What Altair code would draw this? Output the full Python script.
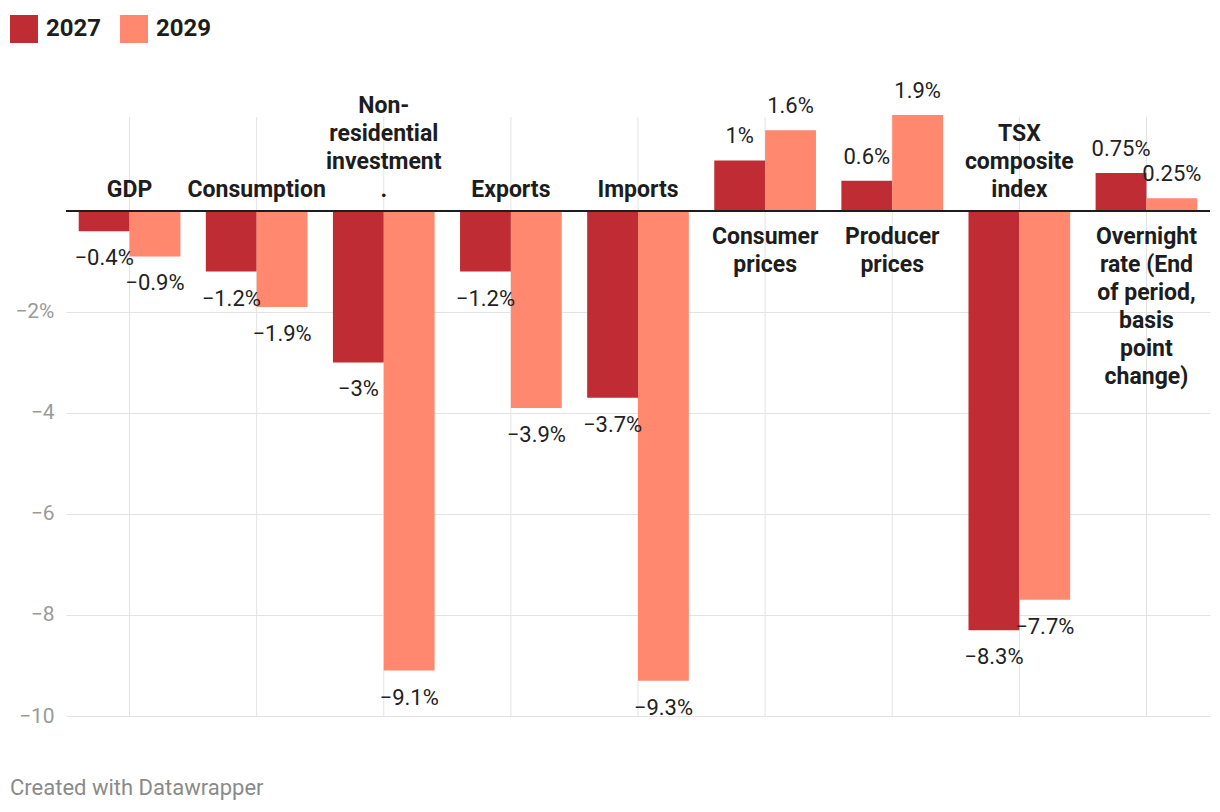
import altair as alt
import pandas as pd

categories = ["GDP", "Consumption", "Non-residential investment", "Exports", "Imports",
              "Consumer prices", "Producer prices", "TSX composite index",
              "Overnight rate (End of period, basis point change)"]
category_labels = ["GDP", "Consumption", "Non-\nresidential\ninvestment\n.", "Exports", "Imports",
                   "Consumer\nprices", "Producer\nprices", "TSX\ncomposite\nindex",
                   "Overnight\nrate (End\nof period,\nbasis\npoint\nchange)"]
years = ["2027", "2029"]
values_2027 = [-0.4, -1.2, -3, -1.2, -3.7, 1, 0.6, -8.3, 0.75]
values_2029 = [-0.9, -1.9, -9.1, -3.9, -9.3, 1.6, 1.9, -7.7, 0.25]
colors = ["#bf2c33", "#ff886e"]
y_ticks = [-10, -8, -6, -4, -2]
y_domain = [-10, 1.86]
footer = ["Created with Datawrapper"]

W, H = 1144, 599
FONT = "Roboto"
LINE_H = 28

rows = []
for c, v in zip(categories, values_2027):
    rows.append({"category": c, "year": "2027", "value": v})
for c, v in zip(categories, values_2029):
    rows.append({"category": c, "year": "2029", "value": v})
df = pd.DataFrame(rows)

cat_rows = []
for c, lab, a, b in zip(categories, category_labels, values_2027, values_2029):
    side = "below" if max(a, b) > 0 else "above"
    cat_rows.append({"category": c, "label": lab, "side": side,
                     "lines": lab.count("\n") + 1, "zero": 0})
df_cat = pd.DataFrame(cat_rows)

x_enc = alt.X("category:N", sort=categories, axis=None,
              scale=alt.Scale(paddingInner=0.2, paddingOuter=0.1))
y_scale = alt.Scale(domain=y_domain, nice=False, zero=False)

grid_v = alt.Chart(df_cat).mark_rule(color="#e3e3e3", strokeWidth=1).encode(
    x=x_enc, y=alt.value(0), y2=alt.value(H)
)

bars = alt.Chart(df).mark_bar().encode(
    x=x_enc,
    xOffset=alt.XOffset("year:N", sort=years),
    y=alt.Y("value:Q", scale=y_scale,
            axis=alt.Axis(values=y_ticks, title=None, domain=False, ticks=False,
                          labelPadding=12, labelFontSize=21, labelColor="#9a9a9a",
                          labelFont=FONT, gridColor="#e3e3e3", gridWidth=1,
                          labelExpr="datum.value == -2 ? datum.label + '%' : datum.label")),
    y2=alt.datum(0),
    color=alt.Color("year:N", sort=years,
                    scale=alt.Scale(domain=years, range=colors),
                    legend=alt.Legend(title=None, orient="none", legendX=-56, legendY=-102,
                                      direction="horizontal", symbolType="square",
                                      symbolSize=784, symbolStrokeWidth=0, symbolOpacity=1,
                                      labelFontSize=24, labelFontWeight="bold",
                                      labelFont=FONT, labelColor="#1d1d1d",
                                      labelOffset=8, columnPadding=18, padding=0)),
)

zero = alt.Chart(pd.DataFrame({"zero": [0]})).mark_rule(color="#1d1d1d", strokeWidth=2).encode(
    y=alt.Y("zero:Q", scale=y_scale)
)

base_val = alt.Chart(df).transform_calculate(
    label="format(datum.value, '~g') + '%'"
)
val_neg = base_val.transform_filter("datum.value < 0").mark_text(
    baseline="top", dy=17, fontSize=22, font=FONT, color="#222222"
).encode(x=x_enc, xOffset=alt.XOffset("year:N", sort=years),
         y=alt.Y("value:Q", scale=y_scale), text="label:N")
val_pos = base_val.transform_filter("datum.value >= 0").mark_text(
    baseline="alphabetic", dy=-17, fontSize=22, font=FONT, color="#222222"
).encode(x=x_enc, xOffset=alt.XOffset("year:N", sort=years),
         y=alt.Y("value:Q", scale=y_scale), text="label:N")

cat_layers = []
for n in sorted(df_cat["lines"].unique()):
    n = int(n)
    cat_layers.append(
        alt.Chart(df_cat).transform_filter(
            f"datum.side == 'above' && datum.lines == {n}"
        ).mark_text(
            baseline="alphabetic", dy=-14 - (n - 1) * LINE_H, fontSize=23, fontWeight="bold",
            font=FONT, color="#1d1d1d", lineBreak="\n", lineHeight=LINE_H
        ).encode(x=x_enc, y=alt.Y("zero:Q", scale=y_scale), text="label:N")
    )

cat_below = alt.Chart(df_cat).transform_filter("datum.side == 'below'").mark_text(
    baseline="alphabetic", dy=33, fontSize=23, fontWeight="bold", font=FONT,
    color="#1d1d1d", lineBreak="\n", lineHeight=LINE_H
).encode(x=x_enc, y=alt.Y("zero:Q", scale=y_scale), text="label:N")

foot = alt.Chart(pd.DataFrame({"t": footer})).mark_text(
    align="left", baseline="middle", fontSize=22, font=FONT, color="#8a8a8a"
).encode(text="t:N", x=alt.value(-56), y=alt.value(671))

chart = alt.layer(grid_v, bars, zero, val_neg, val_pos, *cat_layers, cat_below, foot).properties(
    width=W, height=H,
    padding={"left": 58, "top": 109, "right": 2, "bottom": 96},
    autosize=alt.AutoSizeParams(type="none"),
).configure(font=FONT).configure_view(stroke=None)

chart.save("out.html", embed_options={"renderer": "svg", "actions": False})
